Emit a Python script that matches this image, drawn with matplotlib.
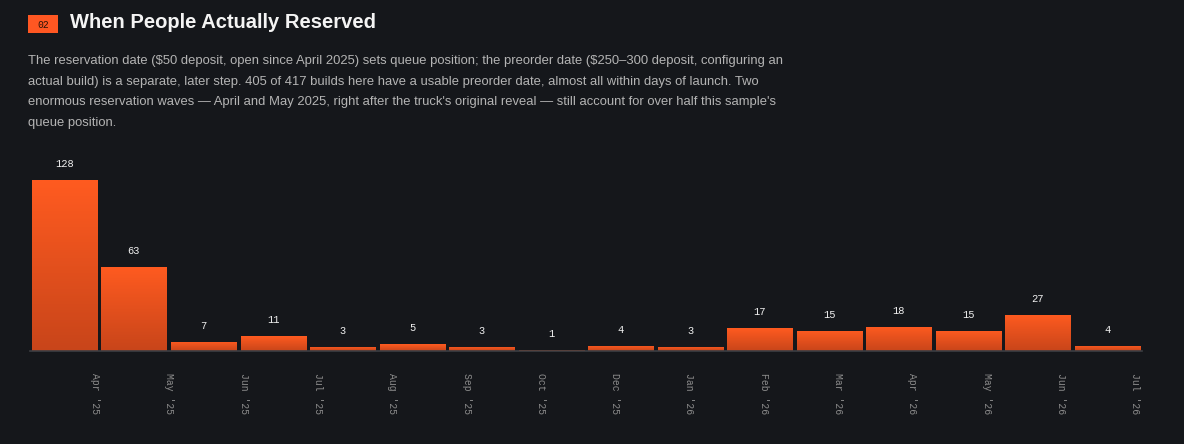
import numpy as np
import matplotlib
matplotlib.use('Agg')
import matplotlib.pyplot as plt
from matplotlib.patches import Rectangle

# 每根柱子的预约数量
counts = [128, 63, 7, 11, 3, 5, 3, 1, 4, 3, 17, 15, 18, 15, 27, 4]
# 底部月份标签（比柱子少一个，均匀排布）
tick_labels = ["Apr '25", "May '25", "Jun '25", "Jul '25", "Aug '25", "Sep '25", "Oct '25", "Dec '25",
               "Jan '26", "Feb '26", "Mar '26", "Apr '26", "May '26", "Jun '26", "Jul '26"]

title = "When People Actually Reserved"
badge = "02"
desc = ("The reservation date (\\$50 deposit, open since April 2025) sets queue position; the preorder date (\\$250\u2013300 deposit, configuring an\n"
        "actual build) is a separate, later step. 405 of 417 builds here have a usable preorder date, almost all within days of launch. Two\n"
        "enormous reservation waves \u2014 April and May 2025, right after the truck's original reveal \u2014 still account for over half this sample's\n"
        "queue position.")

bg = '#15171b'
W, H = 1184, 444

fig = plt.figure(figsize=(W / 100, H / 100), dpi=100, facecolor=bg)

# 标题区
fig.patches.append(Rectangle((28 / W, 1 - 33 / H), 30 / W, 18 / H, transform=fig.transFigure,
                             facecolor='#ff5722', edgecolor='none'))
fig.text(43 / W, 1 - 24.5 / H, badge, color='#2a1208', fontsize=7, family='Liberation Mono',
         ha='center', va='center')
fig.text(70 / W, 1 - 22.5 / H, title, color='#f4f4f4', fontsize=14.5, fontweight='bold',
         family='Liberation Sans', ha='left', va='center')
fig.text(28 / W, 1 - 55 / H, desc, color='#b4b4b4', fontsize=9.4, family='Liberation Sans',
         ha='left', va='top', linespacing=1.97)

# 柱状图
x0, x1 = 29.7, 1142.2
y0 = H - 351
ymax = 140
px_per = 171 / 128
ax = fig.add_axes([x0 / W, y0 / H, (x1 - x0) / W, ymax * px_per / H])
ax.set_facecolor(bg)
n = len(counts)

grad = np.linspace(0, 1, 256).reshape(-1, 1)
cmap = matplotlib.colors.LinearSegmentedColormap.from_list('og', ['#c8451a', '#ff5b20'])
bars = ax.bar(range(n), counts, width=0.935, color='#ff5b20', edgecolor='none')
for b, v in zip(bars, counts):
    bx = b.get_x()
    bw, bh = b.get_width(), b.get_height()
    im = ax.imshow(grad, extent=[bx, bx + bw, 0, bh], origin='lower', cmap=cmap,
                   aspect='auto', zorder=2)
    im.set_clip_path(b)
    ax.annotate(str(v), (bx + bw / 2, bh), xytext=(0, 8), textcoords='offset points',
                ha='center', va='bottom', color='#f0f0f0', fontsize=7.5, family='Liberation Mono')
ax.set_xlim(-0.5, n - 0.5)
ax.set_ylim(0, ymax)

for s in ['top', 'right', 'left']:
    ax.spines[s].set_visible(False)
ax.spines['bottom'].set_color('#3c3e43')
ax.spines['bottom'].set_linewidth(1.2)
ax.set_yticks([])
ax.set_xticks(np.linspace(0.44, 15.40, len(tick_labels)))
ax.set_xticklabels(tick_labels, rotation=-90, color='#8c8c8c', fontsize=7,
                   family='Liberation Mono', va='top', ha='center')
ax.tick_params(axis='x', length=0, pad=16)

fig.savefig('out.png', dpi=100, facecolor=bg)
